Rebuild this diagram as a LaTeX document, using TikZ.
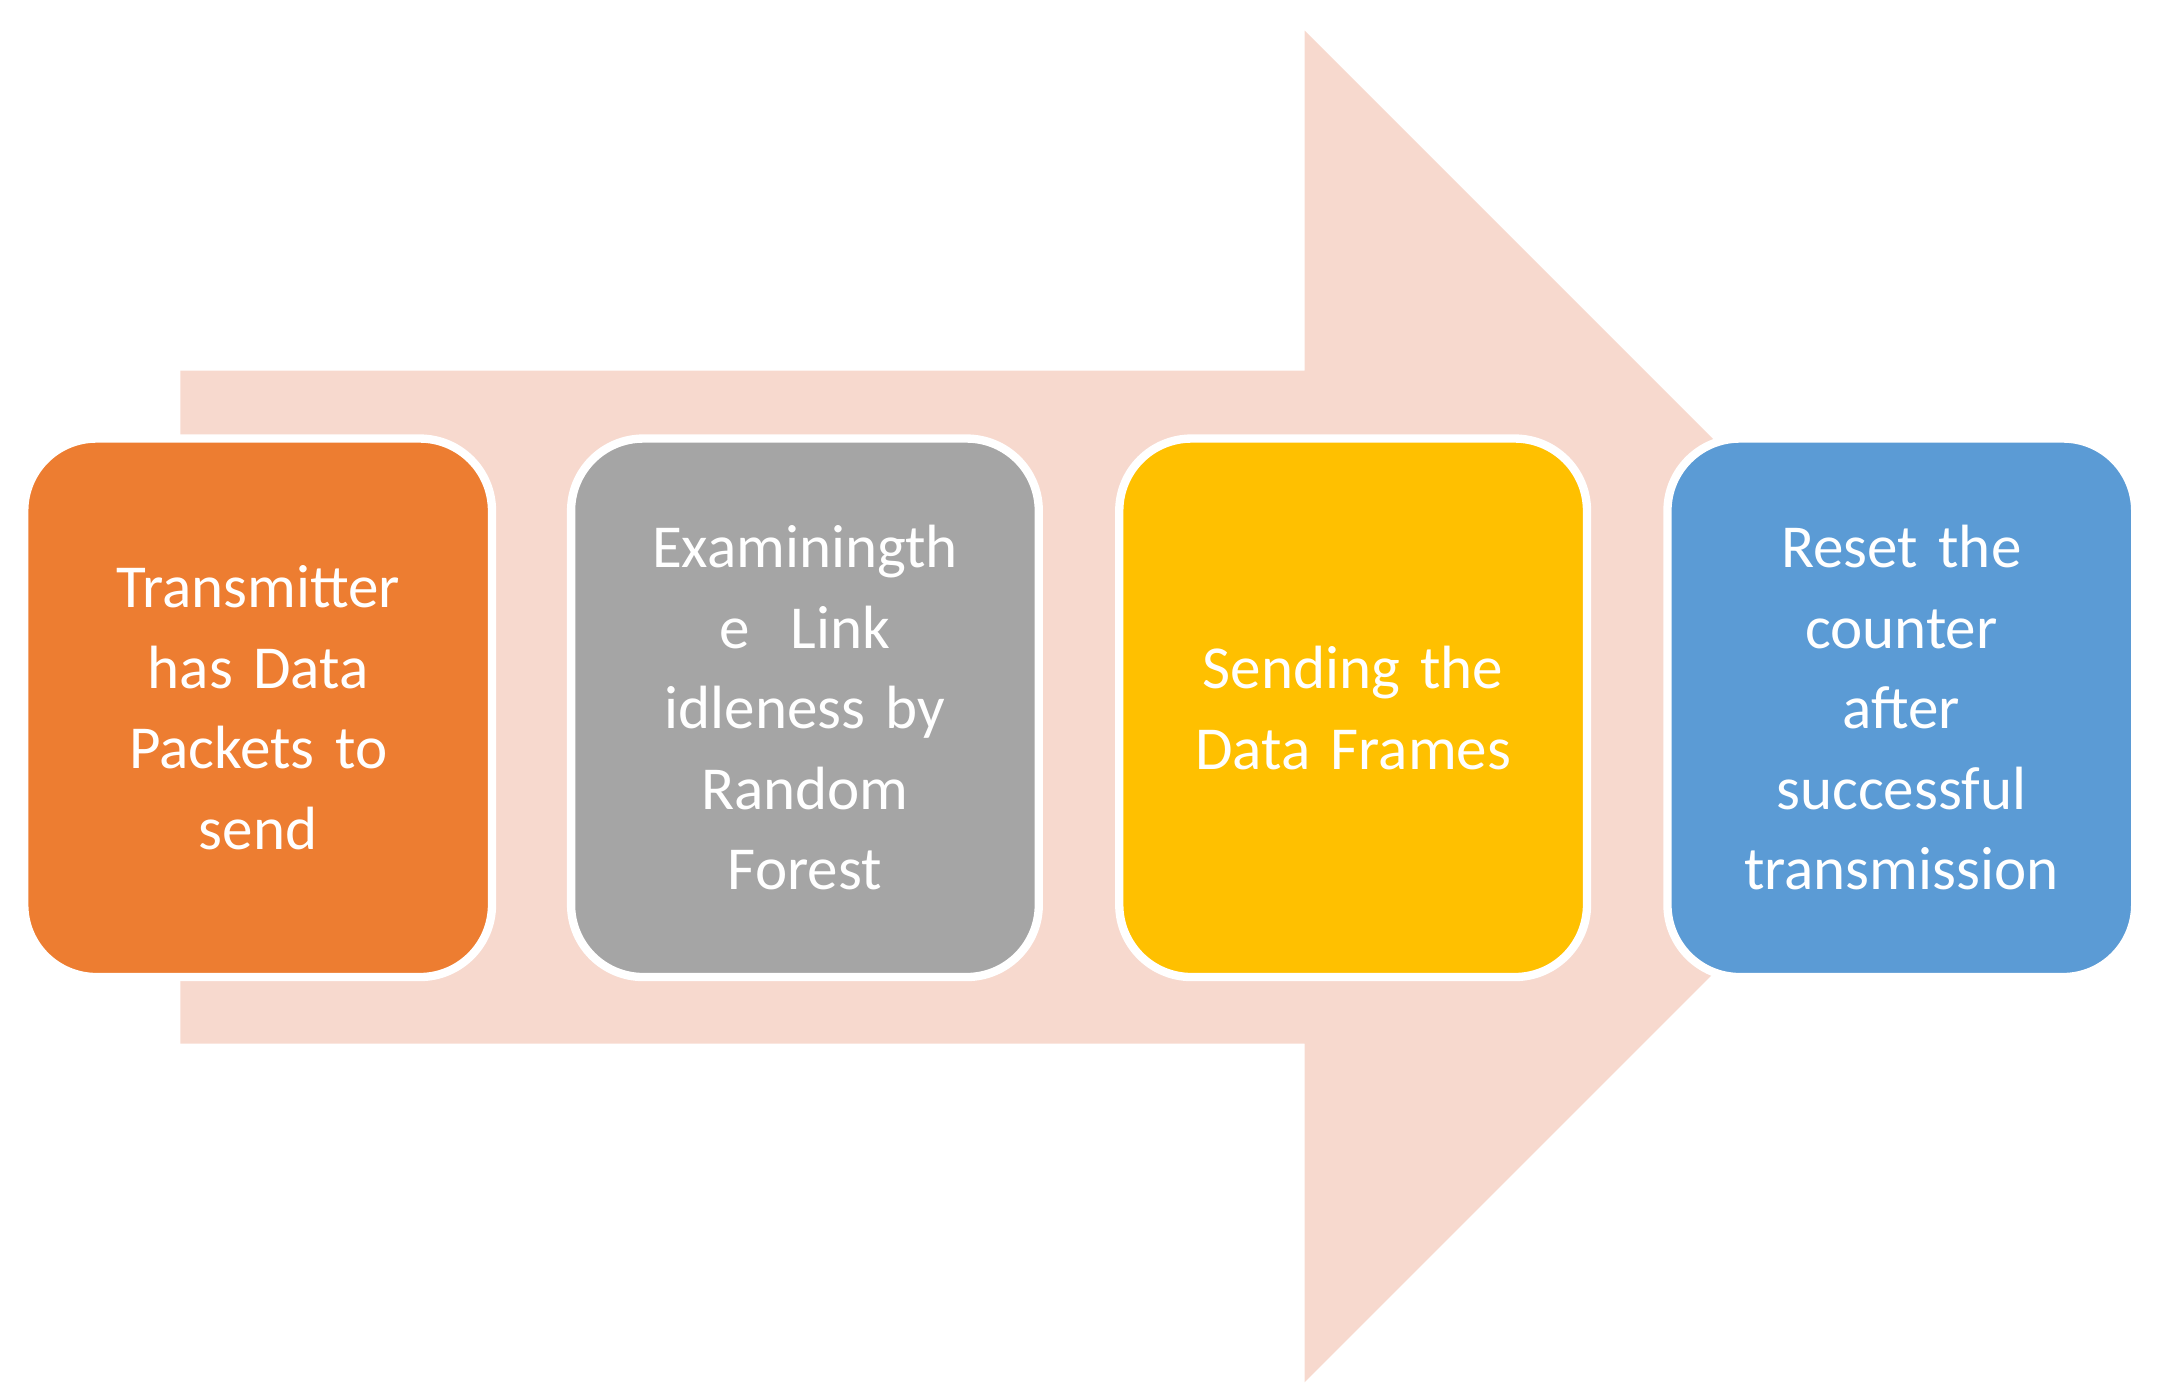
\documentclass[tikz,border=0pt]{standalone}
\usepackage{fontspec}
\setmainfont{Carlito}
\begin{document}
\begin{tikzpicture}[x=1pt,y=-1pt,
 box/.style={draw=white,line width=6pt,rounded corners=52pt,minimum width=337pt,minimum height=388pt,text width=300pt,align=center,text=white,font=\fontsize{44}{58}\selectfont}]
\useasboundingbox (0,0) rectangle (1560,1003);
\fill[fill={rgb,255:red,247;green,217;blue,206}] (130,267) -- (940,267) -- (940,22) -- (1427,509) -- (940,996) -- (940,752) -- (130,752) -- cycle;
\node[box,fill={rgb,255:red,237;green,125;blue,49}] (a) at (186,510) {Transmitter\\has Data\\Packets to\\send};
\node[box,fill={rgb,255:red,165;green,165;blue,165}] (b) at (580,510) {Examiningth\\e\ \ Link\\idleness by\\Random\\Forest};
\node[box,fill={rgb,255:red,255;green,192;blue,0}] (c) at (975,510) {Sending the\\Data Frames};
\node[box,fill={rgb,255:red,91;green,155;blue,213}] (d) at (1370,510) {Reset the\\counter\\after\\successful\\transmission};
\end{tikzpicture}
\end{document}
